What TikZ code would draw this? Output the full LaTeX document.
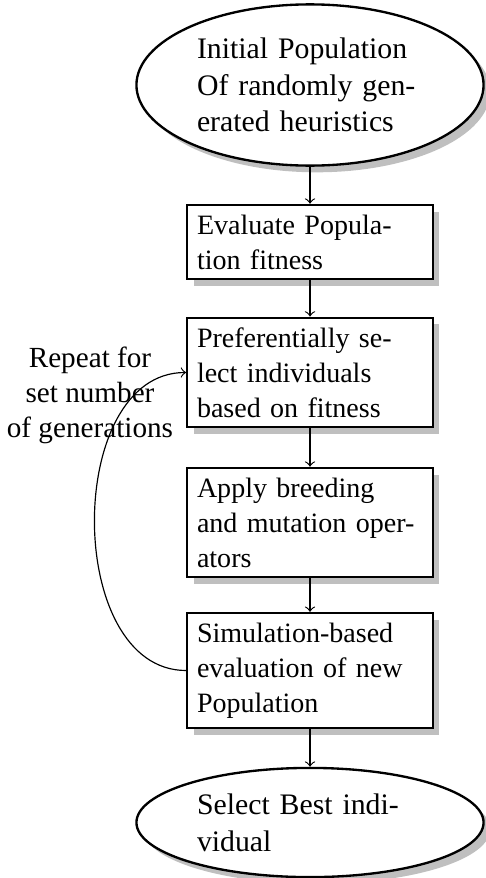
\documentclass[tikz,border=0pt]{standalone}
\usepackage{fontspec}
\setmainfont{Liberation Serif}
\usetikzlibrary{shapes.geometric,shadows}
\begin{document}
\begin{tikzpicture}[x=0.3425pt,y=-0.3425pt,
  flowbox/.style={rectangle, draw, thick, fill=white, drop shadow, text width=77.4pt, align=left,
    font=\fontsize{9.6pt}{12pt}\selectfont},
  flowell/.style={ellipse, draw, thick, fill=white, drop shadow, text width=77.4pt, align=left,
    font=\fontsize{10.2pt}{12.6pt}\selectfont},
  flowarrow/.style={->, >=to}]
\useasboundingbox (0,0) rectangle (486,878);
\node[flowell] (init) at (310,85) {Initial Population\\Of randomly gen-\\erated heuristics};
\node[flowbox] (eval) at (310,242) {Evaluate Popula-\\tion fitness};
\node[flowbox] (sel) at (310,372.5) {Preferentially se-\\lect individuals\\based on fitness};
\node[flowbox] (breed) at (310,522.5) {Apply breeding\\and mutation oper-\\ators};
\node[flowbox] (sim) at (310,670.5) {Simulation-based\\evaluation of new\\Population};
\node[flowell] (best) at (310,822.5) {Select Best indi-\\vidual};
\draw[flowarrow] (init) -- (eval);
\draw[flowarrow] (eval) -- (sel);
\draw[flowarrow] (sel) -- (breed);
\draw[flowarrow] (breed) -- (sim);
\draw[flowarrow] (sim) -- (best);
\draw[flowarrow] (sim.west) to[out=180,in=180,looseness=1.05] (sel.west);
\node[align=center] (rep) at (90,395) {Repeat for\\set number\\of generations};
\end{tikzpicture}
\end{document}
